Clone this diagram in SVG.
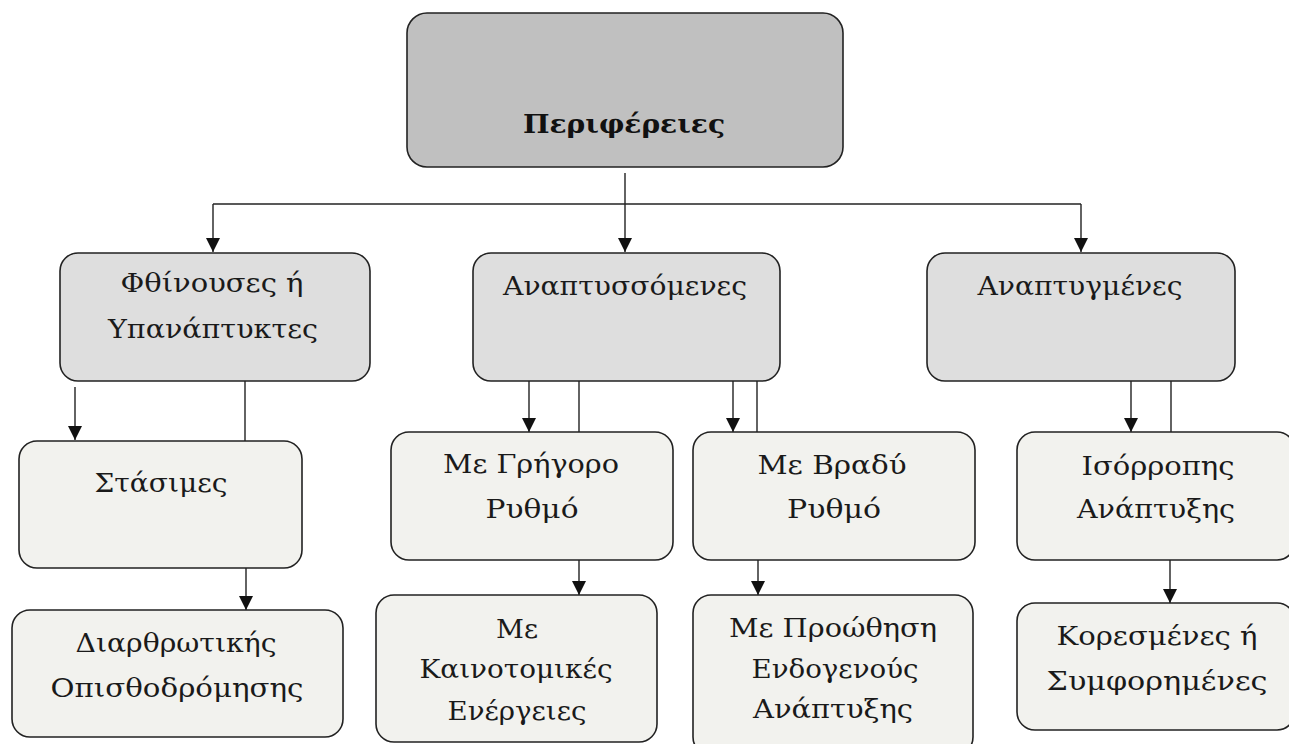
<svg xmlns="http://www.w3.org/2000/svg" width="1289" height="744" viewBox="0 0 1289 744">
<style>
.box{stroke:#222;stroke-width:1.6}
.top{fill:#c0c0c0}
.l2{fill:#dedede}
.l3{fill:#f2f2ee}
.t{font-family:"DejaVu Serif","Liberation Serif",serif;font-size:26px;fill:#1a1a1a;text-anchor:middle}
.tb{font-family:"DejaVu Serif","Liberation Serif",serif;font-size:26px;font-weight:bold;fill:#111;text-anchor:middle}
.c{stroke:#222;stroke-width:1.4;fill:none}
</style>
<defs>
<marker id="ah" markerUnits="userSpaceOnUse" markerWidth="14" markerHeight="14" refX="14" refY="7" orient="auto" viewBox="0 0 14 14">
<path d="M0,0 L14,7 L0,14 Z" fill="#111"/>
</marker>
</defs>
<rect width="1289" height="744" fill="#fff"/>
<g id="connectors">
<path class="c" d="M625,173 V204"/>
<path class="c" d="M213,204 H1081"/>
<path class="c" d="M213,204 V252" marker-end="url(#ah)"/>
<path class="c" d="M625,204 V252" marker-end="url(#ah)"/>
<path class="c" d="M1081,204 V252" marker-end="url(#ah)"/>
<path class="c" d="M75,387 V440" marker-end="url(#ah)"/>
<path class="c" d="M245,381 V441"/>
<path class="c" d="M529,381 V432" marker-end="url(#ah)"/>
<path class="c" d="M579,381 V432"/>
<path class="c" d="M733,381 V432" marker-end="url(#ah)"/>
<path class="c" d="M757,381 V432"/>
<path class="c" d="M1131,381 V432" marker-end="url(#ah)"/>
<path class="c" d="M1171,381 V432"/>
<path class="c" d="M246,568 V610" marker-end="url(#ah)"/>
<path class="c" d="M579,560 V595" marker-end="url(#ah)"/>
<path class="c" d="M758,560 V595" marker-end="url(#ah)"/>
<path class="c" d="M1170,560 V603" marker-end="url(#ah)"/>
</g>
<g id="n-perifereies">
<rect class="box top" x="407" y="13" width="436" height="154" rx="20"/>
<text class="tb" x="624" y="133" textLength="202" lengthAdjust="spacingAndGlyphs">Περιφέρειες</text>
</g>
<g id="n-fthinouses">
<rect class="box l2" x="60" y="253" width="310" height="128" rx="18"/>
<text class="t" x="212" y="292" textLength="183" lengthAdjust="spacingAndGlyphs">Φθίνουσες ή</text>
<text class="t" x="213" y="338" textLength="210" lengthAdjust="spacingAndGlyphs">Υπανάπτυκτες</text>
</g>
<g id="n-anaptyssomenes">
<rect class="box l2" x="473" y="253" width="307" height="128" rx="18"/>
<text class="t" x="625" y="295" textLength="244" lengthAdjust="spacingAndGlyphs">Αναπτυσσόμενες</text>
</g>
<g id="n-anaptygmenes">
<rect class="box l2" x="927" y="253" width="308" height="128" rx="18"/>
<text class="t" x="1080" y="295" textLength="205" lengthAdjust="spacingAndGlyphs">Αναπτυγμένες</text>
</g>
<g id="n-stasimes">
<rect class="box l3" x="19" y="441" width="283" height="127" rx="18"/>
<text class="t" x="161" y="492" textLength="133" lengthAdjust="spacingAndGlyphs">Στάσιμες</text>
</g>
<g id="n-grigoro">
<rect class="box l3" x="391" y="432" width="282" height="128" rx="18"/>
<text class="t" x="531" y="473" textLength="176" lengthAdjust="spacingAndGlyphs">Με Γρήγορο</text>
<text class="t" x="532" y="518" textLength="93" lengthAdjust="spacingAndGlyphs">Ρυθμό</text>
</g>
<g id="n-vradi">
<rect class="box l3" x="693" y="432" width="282" height="128" rx="18"/>
<text class="t" x="832" y="474" textLength="149" lengthAdjust="spacingAndGlyphs">Με Βραδύ</text>
<text class="t" x="834" y="518" textLength="94" lengthAdjust="spacingAndGlyphs">Ρυθμό</text>
</g>
<g id="n-isorropis">
<rect class="box l3" x="1017" y="432" width="278" height="128" rx="18"/>
<text class="t" x="1158" y="475" textLength="153" lengthAdjust="spacingAndGlyphs">Ισόρροπης</text>
<text class="t" x="1156" y="518" textLength="158" lengthAdjust="spacingAndGlyphs">Ανάπτυξης</text>
</g>
<g id="n-diarthrotikis">
<rect class="box l3" x="12" y="610" width="331" height="127" rx="18"/>
<text class="t" x="176" y="652" textLength="201" lengthAdjust="spacingAndGlyphs">Διαρθρωτικής</text>
<text class="t" x="177" y="697" textLength="253" lengthAdjust="spacingAndGlyphs">Οπισθοδρόμησης</text>
</g>
<g id="n-kainotomikes">
<rect class="box l3" x="376" y="595" width="281" height="147" rx="18"/>
<text class="t" x="517" y="638" textLength="42" lengthAdjust="spacingAndGlyphs">Με</text>
<text class="t" x="516" y="678" textLength="193" lengthAdjust="spacingAndGlyphs">Καινοτομικές</text>
<text class="t" x="517" y="720" textLength="139" lengthAdjust="spacingAndGlyphs">Ενέργειες</text>
</g>
<g id="n-proothisi">
<rect class="box l3" x="693" y="595" width="280" height="160" rx="18"/>
<text class="t" x="833" y="637" textLength="208" lengthAdjust="spacingAndGlyphs">Με Προώθηση</text>
<text class="t" x="835" y="678" textLength="167" lengthAdjust="spacingAndGlyphs">Ενδογενούς</text>
<text class="t" x="833" y="718" textLength="160" lengthAdjust="spacingAndGlyphs">Ανάπτυξης</text>
</g>
<g id="n-koresmenes">
<rect class="box l3" x="1017" y="603" width="278" height="127" rx="18"/>
<text class="t" x="1157" y="645" textLength="201" lengthAdjust="spacingAndGlyphs">Κορεσμένες ή</text>
<text class="t" x="1157" y="690" textLength="221" lengthAdjust="spacingAndGlyphs">Συμφορημένες</text>
</g>
</svg>
